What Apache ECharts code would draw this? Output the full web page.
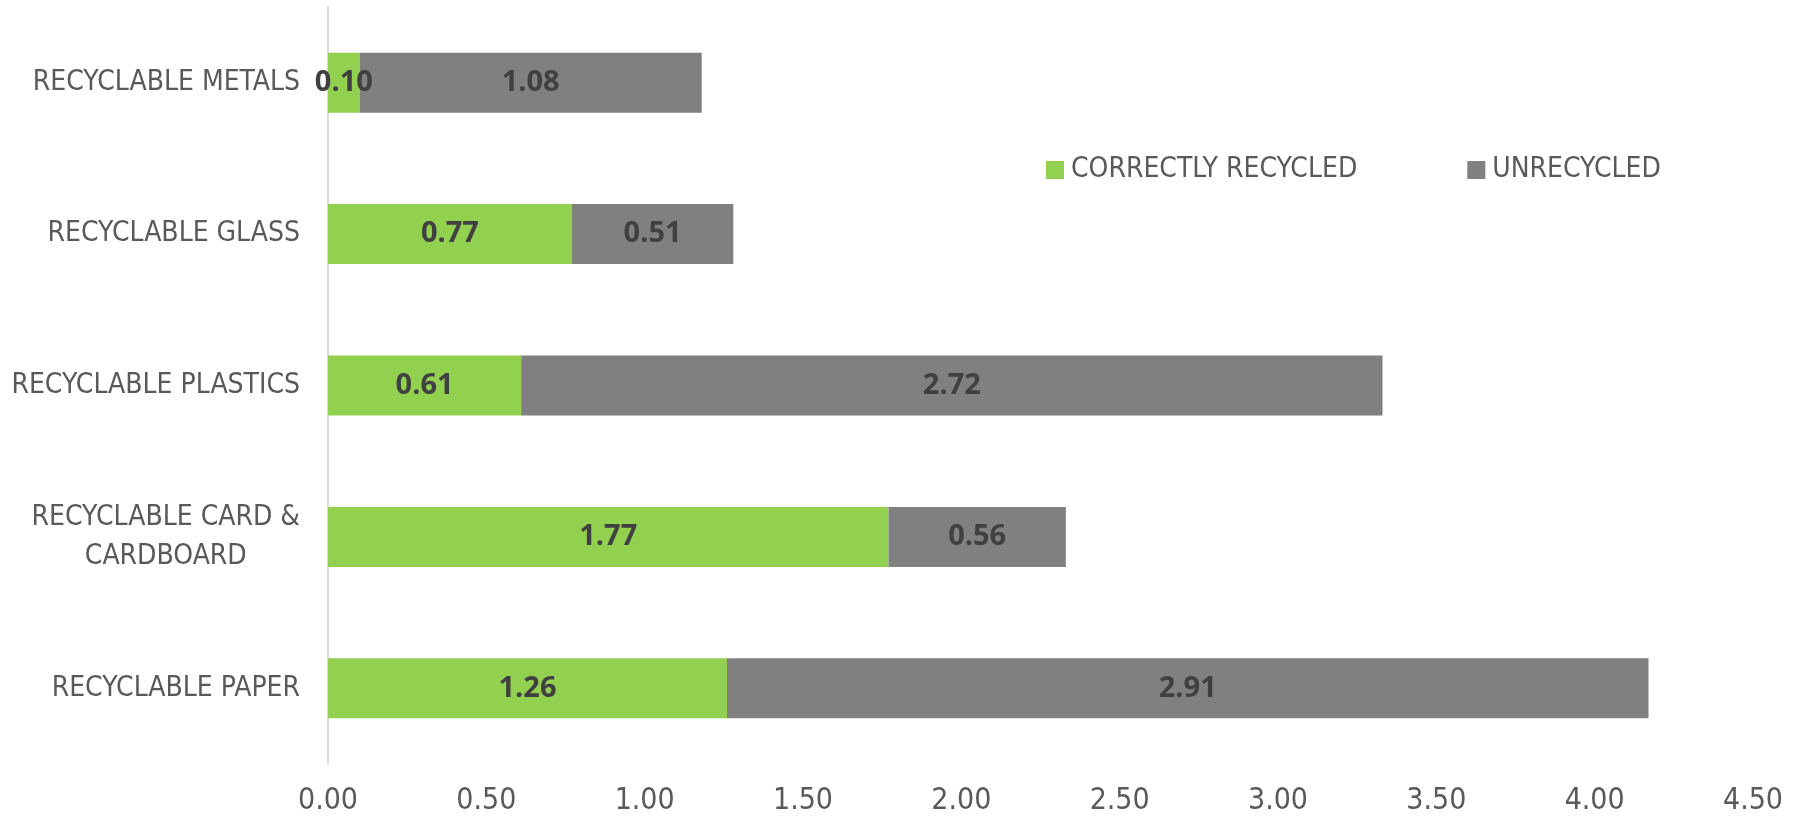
<!DOCTYPE html>
<html>
<head>
<meta charset="utf-8">
<script src="https://cdn.jsdelivr.net/npm/echarts@6/dist/echarts.min.js"></script>
<style>
  html, body { margin: 0; padding: 0; background: #ffffff; }
  #chart { width: 1798px; height: 821px; }
</style>
</head>
<body>
<div id="chart"></div>
<script>
// Waste streams, listed bottom to top as drawn on the category axis
var categories = [
  'RECYCLABLE PAPER',
  'RECYCLABLE CARD &\nCARDBOARD',
  'RECYCLABLE PLASTICS',
  'RECYCLABLE GLASS',
  'RECYCLABLE METALS'
];
var correctlyRecycled = [1.26, 1.77, 0.61, 0.77, 0.10];
var unrecycled = [2.91, 0.56, 2.72, 0.51, 1.08];
var seriesNames = ['CORRECTLY RECYCLED', 'UNRECYCLED'];
var xTicks = { min: 0, max: 4.5, interval: 0.5 };

var narrowFont = "'Liberation Sans Narrow', 'DejaVu Sans Condensed', 'Liberation Sans', sans-serif";
var textGray = '#595959';

var chart = echarts.init(document.getElementById('chart'), null, { renderer: 'canvas' });

var valueLabel = {
  show: true,
  position: 'inside',
  color: '#404040',
  fontFamily: "'Open Sans', 'Noto Sans', sans-serif",
  fontWeight: 'bold',
  fontSize: 29,
  formatter: function (p) { return p.value.toFixed(2); }
};

chart.setOption({
  animation: false,
  backgroundColor: '#ffffff',
  grid: { left: 328, right: 45, top: 7, bottom: 57, containLabel: false },
  legend: {
    data: seriesNames,
    left: 1041,
    top: 151,
    itemWidth: 18,
    itemHeight: 18,
    itemGap: 110,
    icon: 'rect',
    textStyle: { color: textGray, fontFamily: narrowFont, fontSize: 28, padding: [0, 0, 0, 2] }
  },
  xAxis: {
    type: 'value',
    min: xTicks.min,
    max: xTicks.max,
    interval: xTicks.interval,
    axisLine: { show: false },
    axisTick: { show: false },
    splitLine: { show: false },
    axisLabel: {
      color: textGray,
      fontFamily: narrowFont,
      fontSize: 30,
      margin: 22,
      formatter: function (v) { return v.toFixed(2); }
    }
  },
  yAxis: {
    type: 'category',
    data: categories,
    axisLine: { show: true, lineStyle: { color: '#d9d9d9', width: 2 } },
    axisTick: { show: false },
    axisLabel: {
      margin: 28,
      formatter: function (v) {
        return v.split('\n').map(function (line) { return '{c|' + line + '}'; }).join('\n');
      },
      rich: {
        c: {
          color: textGray,
          fontFamily: narrowFont,
          fontSize: 28,
          lineHeight: 39,
          align: 'center'
        }
      }
    }
  },
  series: [
    {
      name: seriesNames[0],
      type: 'bar',
      stack: 'total',
      data: correctlyRecycled,
      barWidth: 60,
      itemStyle: { color: '#92d050' },
      label: valueLabel
    },
    {
      name: seriesNames[1],
      type: 'bar',
      stack: 'total',
      data: unrecycled,
      barWidth: 60,
      itemStyle: { color: '#808080' },
      label: valueLabel
    }
  ]
});
</script>
</body>
</html>
